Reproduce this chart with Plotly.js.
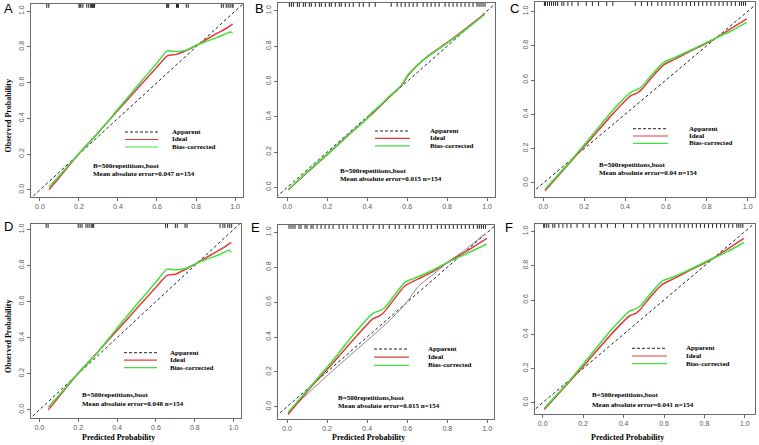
<!DOCTYPE html>
<html><head><meta charset="utf-8">
<script src="https://cdn.plot.ly/plotly-3.0.1.min.js"></script>
<style>html,body{margin:0;padding:0;background:#fff}#chart{width:759px;height:445px}</style>
</head><body><div id="chart"></div>
<script>
// ---------------- DATA ----------------
const panelLabels = ['A', 'B', 'C', 'D', 'E', 'F'];
const legendNames = ['Apparent', 'Ideal', 'Bias-corrected'];
const infoLine1 = 'B=500repetitions,boot';
const maeLines = [
  'Mean absolute error=0.047 n=154',
  'Mean absolute error=0.015 n=154',
  'Mean absolute error=0.04 n=154',
  'Mean absolute error=0.048 n=154',
  'Mean absolute error=0.015 n=154',
  'Mean absolute error=0.041 n=154'
];
const xTitle = 'Predicted Probability';
const yTitle = 'Observed Probability';
const tickVals = [0, 0.2, 0.4, 0.6, 0.8, 1.0];
const diagX = [-0.2, 1.2];
const diagY = [-0.2, 1.2];

// Panel A
const A_idealX = [0.046, 0.10, 0.188, 0.30, 0.40, 0.50, 0.60, 0.653, 0.70, 0.75, 0.803, 0.85, 0.906, 0.95, 0.988];
const A_idealY = [0.000, 0.071, 0.187, 0.323, 0.445, 0.567, 0.688, 0.750, 0.758, 0.780, 0.809, 0.840, 0.875, 0.900, 0.927];
const A_biasX = [0.046, 0.10, 0.188, 0.30, 0.40, 0.50, 0.60, 0.653, 0.70, 0.75, 0.803, 0.85, 0.906, 0.95, 0.975, 0.988];
const A_biasY = [0.015, 0.080, 0.190, 0.320, 0.452, 0.582, 0.710, 0.778, 0.773, 0.782, 0.809, 0.830, 0.852, 0.872, 0.884, 0.879];
const A_rug = [0.035, 0.045, 0.20, 0.205, 0.21, 0.22, 0.24, 0.25, 0.26, 0.265, 0.27, 0.275, 0.28, 0.65, 0.655, 0.66, 0.70, 0.705, 0.71, 0.75, 0.76, 0.93, 0.94, 0.955, 0.965, 0.975, 0.985, 0.99];

// Panel B
const B_idealX = [0.005, 0.10, 0.20, 0.30, 0.40, 0.47, 0.50, 0.57, 0.605, 0.655, 0.705, 0.80, 0.90, 0.988];
const B_idealY = [-0.015, 0.085, 0.185, 0.290, 0.390, 0.465, 0.500, 0.575, 0.635, 0.695, 0.745, 0.820, 0.905, 0.983];
const B_biasX = [0.005, 0.10, 0.20, 0.30, 0.40, 0.42, 0.47, 0.50, 0.57, 0.605, 0.655, 0.705, 0.80, 0.90, 0.988];
const B_biasY = [-0.012, 0.088, 0.188, 0.292, 0.392, 0.420, 0.470, 0.505, 0.578, 0.640, 0.698, 0.742, 0.818, 0.900, 0.980];
const B_rug = [0.01, 0.02, 0.03, 0.05, 0.06, 0.08, 0.09, 0.11, 0.12, 0.14, 0.16, 0.17, 0.19, 0.21, 0.22, 0.24, 0.26, 0.27, 0.29, 0.31, 0.33, 0.36, 0.38, 0.41, 0.44, 0.52, 0.55, 0.57, 0.59, 0.61, 0.63, 0.65, 0.68, 0.70, 0.72, 0.74, 0.76, 0.79, 0.81, 0.83, 0.85, 0.87, 0.89, 0.91, 0.93, 0.95, 0.96, 0.97, 0.98, 0.99];

// Panel C
const C_idealX = [0.008, 0.13, 0.228, 0.343, 0.43, 0.46, 0.485, 0.53, 0.59, 0.636, 0.718, 0.832, 0.914, 0.995];
const C_idealY = [-0.045, 0.119, 0.250, 0.407, 0.510, 0.525, 0.550, 0.615, 0.690, 0.718, 0.767, 0.835, 0.897, 0.957];
const C_biasY = [-0.037, 0.125, 0.262, 0.428, 0.530, 0.545, 0.565, 0.630, 0.705, 0.728, 0.772, 0.838, 0.883, 0.936];
const C_rug = [0.005, 0.01, 0.02, 0.03, 0.04, 0.05, 0.06, 0.07, 0.09, 0.10, 0.12, 0.14, 0.17, 0.21, 0.24, 0.27, 0.31, 0.34, 0.45, 0.48, 0.51, 0.53, 0.56, 0.58, 0.60, 0.62, 0.64, 0.66, 0.68, 0.70, 0.72, 0.74, 0.76, 0.78, 0.80, 0.82, 0.84, 0.86, 0.88, 0.90, 0.92, 0.94, 0.96, 0.97, 0.98, 0.99];

// Panel D
const D_idealX = [0.046, 0.10, 0.188, 0.30, 0.40, 0.50, 0.60, 0.658, 0.70, 0.75, 0.803, 0.85, 0.906, 0.95, 0.988];
const D_idealY = [0.000, 0.071, 0.187, 0.320, 0.440, 0.560, 0.680, 0.745, 0.752, 0.778, 0.808, 0.838, 0.873, 0.900, 0.928];
const D_biasX = [0.046, 0.10, 0.188, 0.30, 0.40, 0.50, 0.60, 0.658, 0.70, 0.75, 0.803, 0.85, 0.906, 0.95, 0.975, 0.988];
const D_biasY = [0.015, 0.080, 0.190, 0.320, 0.452, 0.582, 0.708, 0.780, 0.775, 0.783, 0.809, 0.830, 0.852, 0.872, 0.884, 0.876];
const D_rug = [0.035, 0.045, 0.20, 0.21, 0.22, 0.24, 0.25, 0.26, 0.27, 0.275, 0.28, 0.65, 0.66, 0.70, 0.71, 0.75, 0.76, 0.93, 0.945, 0.955, 0.97, 0.98, 0.99];

// Panel E
const E_idealX = [0.005, 0.12, 0.228, 0.343, 0.43, 0.46, 0.485, 0.53, 0.59, 0.655, 0.72, 0.797, 0.90, 0.997];
const E_idealY = [-0.044, 0.114, 0.250, 0.400, 0.505, 0.520, 0.543, 0.610, 0.695, 0.733, 0.770, 0.825, 0.895, 0.966];
const E_biasY = [-0.032, 0.120, 0.265, 0.430, 0.537, 0.550, 0.565, 0.630, 0.714, 0.745, 0.780, 0.825, 0.880, 0.933];
const E_appX = [0.005, 0.10, 0.20, 0.30, 0.40, 0.50, 0.59, 0.655, 0.72, 0.80, 0.90, 0.98];
const E_appY = [-0.035, 0.072, 0.178, 0.280, 0.380, 0.482, 0.588, 0.690, 0.750, 0.825, 0.910, 0.985];
const E_rug = [0.01, 0.02, 0.03, 0.04, 0.06, 0.07, 0.09, 0.10, 0.12, 0.13, 0.15, 0.17, 0.19, 0.21, 0.23, 0.26, 0.28, 0.30, 0.33, 0.35, 0.38, 0.40, 0.43, 0.46, 0.48, 0.51, 0.54, 0.56, 0.59, 0.61, 0.63, 0.66, 0.68, 0.70, 0.72, 0.75, 0.77, 0.79, 0.81, 0.83, 0.85, 0.87, 0.89, 0.91, 0.93, 0.95, 0.96, 0.97, 0.98, 0.99];

// Panel F
const F_idealX = [0.008, 0.13, 0.228, 0.343, 0.43, 0.46, 0.485, 0.53, 0.59, 0.636, 0.718, 0.832, 0.914, 0.995];
const F_idealY = [-0.040, 0.119, 0.250, 0.405, 0.508, 0.522, 0.548, 0.615, 0.690, 0.718, 0.767, 0.835, 0.897, 0.960];
const F_biasY = [-0.032, 0.125, 0.265, 0.430, 0.535, 0.548, 0.568, 0.632, 0.710, 0.730, 0.773, 0.838, 0.883, 0.936];
const F_rug = [0.005, 0.01, 0.02, 0.03, 0.05, 0.06, 0.08, 0.10, 0.12, 0.14, 0.17, 0.20, 0.23, 0.26, 0.29, 0.32, 0.36, 0.40, 0.44, 0.47, 0.50, 0.53, 0.55, 0.58, 0.60, 0.62, 0.64, 0.66, 0.68, 0.70, 0.72, 0.74, 0.76, 0.78, 0.80, 0.82, 0.84, 0.86, 0.88, 0.90, 0.92, 0.94, 0.96, 0.97, 0.98, 0.99];

// ---------------- LAYOUT / STYLE ----------------
const W = 759, H = 445;
const RED = 'rgb(228,58,62)', GREEN = 'rgb(62,226,62)';
const serifB = {family: 'Liberation Serif, Times New Roman, serif', size: 7, color: '#000', weight: 'bold'};

const series = {
  A: {ix: A_idealX, iy: A_idealY, bx: A_biasX, by: A_biasY, rug: A_rug},
  B: {ix: B_idealX, iy: B_idealY, bx: B_biasX, by: B_biasY, rug: B_rug},
  C: {ix: C_idealX, iy: C_idealY, bx: C_idealX, by: C_biasY, rug: C_rug},
  D: {ix: D_idealX, iy: D_idealY, bx: D_biasX, by: D_biasY, rug: D_rug},
  E: {ix: E_idealX, iy: E_idealY, bx: E_idealX, by: E_biasY, rug: E_rug, ax: E_appX, ay: E_appY},
  F: {ix: F_idealX, iy: F_idealY, bx: F_idealX, by: F_biasY, rug: F_rug}
};

// pixel boxes [left, right, top, bottom], axis ranges, and text positions
const panels = [
  {box: [31, 243, 4, 197], xr: [-0.046, 1.041], yr: [-0.04, 1.04], lab: [8, 9], key: [125, 158, 170, 132, 7.5], info: [91, 166, 174.3], ytitle: true, xtitle: false},
  {box: [278, 495, 3, 197], xr: [-0.047, 1.04], yr: [-0.055, 1.045], lab: [259, 9], key: [375, 410, 428, 131, 7.4], info: [338, 170.7, 179], ytitle: false, xtitle: false},
  {box: [535, 755, 2, 197], xr: [-0.041, 1.036], yr: [-0.082, 1.055], lab: [514, 9], key: [633, 668, 687, 128.7, 7.3], info: [597, 165, 173.3], ytitle: false, xtitle: false},
  {box: [31, 241, 224, 418], xr: [-0.043, 1.038], yr: [-0.045, 1.03], lab: [8, 226], key: [124, 157, 168, 352.7, 7.5], info: [80, 394.7, 403.7], ytitle: true, xtitle: true},
  {box: [278, 494, 225, 419], xr: [-0.045, 1.033], yr: [-0.07, 1.042], lab: [255, 228], key: [374, 409, 426, 349, 8.2], info: [336, 397.7, 406], ytitle: false, xtitle: true},
  {box: [535, 755, 224, 414], xr: [-0.038, 1.05], yr: [-0.066, 1.044], lab: [509, 228], key: [632, 667, 684, 348.3, 7.7], info: [590, 395.3, 404.7], ytitle: false, xtitle: true}
];

const px = v => v / W;
const py = v => 1 - v / H;

const data = [];
const layout = {
  width: W, height: H,
  margin: {l: 0, r: 0, t: 0, b: 0},
  paper_bgcolor: '#fff', plot_bgcolor: '#fff',
  showlegend: false,
  annotations: [], shapes: []
};

panels.forEach((p, i) => {
  const key = panelLabels[i];
  const s = series[key];
  const n = i === 0 ? '' : String(i + 1);
  const xa = 'x' + n, ya = 'y' + n;
  const axBase = {
    showgrid: false, zeroline: false, showline: true, mirror: true,
    linecolor: '#6a6a6a', linewidth: 1,
    ticks: 'outside', ticklen: 3, tickcolor: '#6a6a6a', tickwidth: 1,
    tickvals: tickVals, tickformat: '.1f',
    tickfont: {family: 'Liberation Sans, Arial, sans-serif', size: 7, color: '#5a5a5a'},
    fixedrange: true
  };
  layout['xaxis' + n] = Object.assign({}, axBase, {
    domain: [px(p.box[0]), px(p.box[1])], range: p.xr, anchor: ya
  });
  layout['yaxis' + n] = Object.assign({}, axBase, {
    domain: [py(p.box[3]), py(p.box[2])], range: p.yr, anchor: xa, tickangle: -90
  });

  // diagonal (dashed black)
  data.push({x: diagX, y: diagY, xaxis: xa, yaxis: ya, mode: 'lines', name: legendNames[0],
    line: {color: '#222', width: 1, dash: '3px,2.5px'}, hoverinfo: 'skip'});
  if (s.ax) {
    data.push({x: s.ax, y: s.ay, xaxis: xa, yaxis: ya, mode: 'lines', name: 'apparent-gray',
      line: {color: '#8a8a8a', width: 1, shape: 'spline', smoothing: 0.6}, hoverinfo: 'skip'});
  }
  // Ideal (red)
  data.push({x: s.ix, y: s.iy, xaxis: xa, yaxis: ya, mode: 'lines', name: legendNames[1],
    line: {color: RED, width: 1.5, shape: 'spline', smoothing: 0.6}, hoverinfo: 'skip'});
  // Bias-corrected (green)
  data.push({x: s.bx, y: s.by, xaxis: xa, yaxis: ya, mode: 'lines', name: legendNames[2],
    line: {color: GREEN, width: 1.5, shape: 'spline', smoothing: 0.6}, hoverinfo: 'skip'});
  // rug at top
  const yTop = p.yr[1] - (p.yr[1] - p.yr[0]) * 0.009;
  data.push({x: s.rug, y: s.rug.map(() => yTop), xaxis: xa, yaxis: ya, mode: 'markers',
    marker: {symbol: 'line-ns-open', size: 3, color: '#222', line: {color: '#222', width: 1}},
    hoverinfo: 'skip', cliponaxis: false});

  // panel letter
  layout.annotations.push({text: key, xref: 'paper', yref: 'paper', x: px(p.lab[0]), y: py(p.lab[1]),
    xanchor: 'center', yanchor: 'middle', showarrow: false,
    font: {family: 'Liberation Sans, Arial, sans-serif', size: 13, color: '#000'}});

  // legend keys and labels
  const [k0, k1, tx, ty0, dy] = p.key;
  const keyStyles = [
    {color: '#222', width: 1, dash: '3px,2px'},
    {color: RED, width: 1.2},
    {color: GREEN, width: 1.2}
  ];
  legendNames.forEach((nm, j) => {
    const yy = ty0 + j * dy;
    layout.shapes.push({type: 'line', xref: 'paper', yref: 'paper',
      x0: px(k0), x1: px(k1), y0: py(yy), y1: py(yy), line: keyStyles[j]});
    layout.annotations.push({text: nm, xref: 'paper', yref: 'paper', x: px(tx), y: py(yy),
      xanchor: 'left', yanchor: 'middle', showarrow: false, font: serifB});
  });

  // info text
  layout.annotations.push({text: infoLine1, xref: 'paper', yref: 'paper', x: px(p.info[0]), y: py(p.info[1]),
    xanchor: 'left', yanchor: 'middle', showarrow: false, font: serifB});
  layout.annotations.push({text: maeLines[i], xref: 'paper', yref: 'paper', x: px(p.info[0]), y: py(p.info[2]),
    xanchor: 'left', yanchor: 'middle', showarrow: false, font: serifB});

  if (p.ytitle) {
    const cy = (p.box[2] + p.box[3]) / 2 + 16;
    layout.annotations.push({text: yTitle, xref: 'paper', yref: 'paper', x: px(8), y: py(cy),
      xanchor: 'center', yanchor: 'middle', showarrow: false, textangle: -90,
      font: Object.assign({}, serifB, {size: 8})});
  }
  if (p.xtitle) {
    const cx = (p.box[0] + p.box[1]) / 2 - 18;
    layout.annotations.push({text: xTitle, xref: 'paper', yref: 'paper', x: px(cx), y: py(437),
      xanchor: 'center', yanchor: 'middle', showarrow: false,
      font: Object.assign({}, serifB, {size: 8})});
  }
});

Plotly.newPlot('chart', data, layout, {displayModeBar: false, staticPlot: true});
</script>
</body></html>
